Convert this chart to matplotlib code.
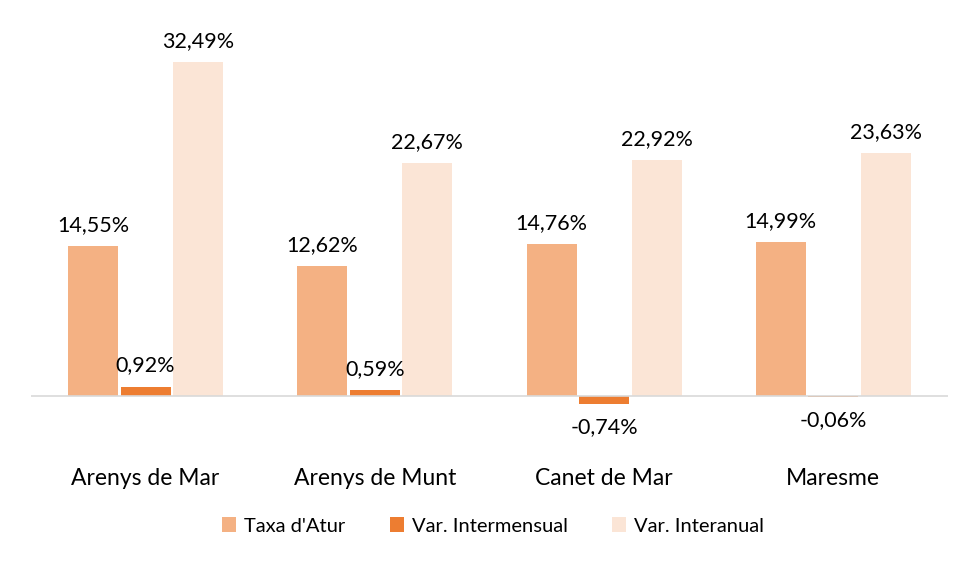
import numpy as np
import matplotlib
matplotlib.use('Agg')
import matplotlib.pyplot as plt

# dades
municipis = ['Arenys de Mar', 'Arenys de Munt', 'Canet de Mar', 'Maresme']
taxa_atur = [14.55, 12.62, 14.76, 14.99]
var_intermensual = [0.92, 0.59, -0.74, -0.06]
var_interanual = [32.49, 22.67, 22.92, 23.63]

series = ["Taxa d'Atur", 'Var. Intermensual', 'Var. Interanual']
colors = ['#F4B183', '#ED7D31', '#FBE5D6']

plt.rcParams['font.family'] = ['Lato', 'DejaVu Sans']

fig = plt.figure(figsize=(9.8, 5.62), dpi=100)
ax = fig.add_axes([0.0316, 0.2039, 0.9357, 0.7317])

x = np.arange(len(municipis))
ample = 0.218
pas = 0.229

valors = [taxa_atur, var_intermensual, var_interanual]
for i, (nom, vals, col) in enumerate(zip(series, valors, colors)):
    pos = x + (i - 1) * pas
    ax.bar(pos, vals, width=ample, color=col, label=nom)
    for p, v in zip(pos, vals):
        txt = f'{v:.2f}%'.replace('.', ',')
        if v >= 0:
            ax.annotate(txt, (p, v), xytext=(0, 8), textcoords='offset points',
                        ha='center', va='bottom', fontsize=15.5)
        else:
            ax.annotate(txt, (p, v), xytext=(0, -10), textcoords='offset points',
                        ha='center', va='top', fontsize=15.5)

ax.axhline(0, color='#D9D9D9', lw=1.2)
ax.set_xlim(-0.5, len(municipis) - 0.5)
ax.set_ylim(-5, 35)
ax.set_yticks([])
ax.set_xticks(x)
ax.set_xticklabels(municipis, fontsize=16.5)
ax.tick_params(axis='x', length=0, pad=15)
for s in ax.spines.values():
    s.set_visible(False)

fig.legend(loc='center', bbox_to_anchor=(493 / 980, 1 - 526 / 562), ncol=3,
           frameon=False, fontsize=14.5, handlelength=0.7, handleheight=0.7,
           columnspacing=2.2, handletextpad=0.4)

fig.savefig('out.png', dpi=100)
